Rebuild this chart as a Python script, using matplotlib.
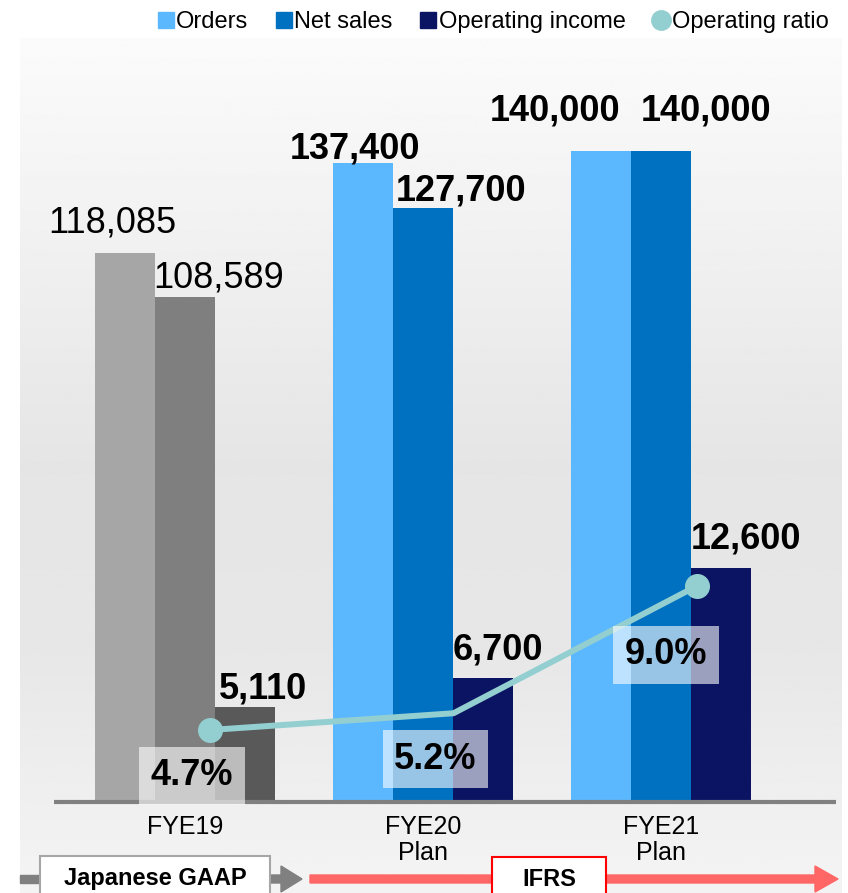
import numpy as np
import matplotlib.pyplot as plt
from matplotlib.lines import Line2D
from matplotlib.patches import Rectangle, Polygon

plt.rcParams['font.family'] = ['Liberation Sans', 'DejaVu Sans']

# data
years = ['FYE19', 'FYE20\nPlan', 'FYE21\nPlan']
orders = [118085, 137400, 140000]
net_sales = [108589, 127700, 140000]
op_income = [5110, 6700, 12600]
op_ratio = [4.7, 5.2, 9.0]

# colours: first year (Japanese GAAP) in greys, plans in blues
orders_col = ['#a6a6a6', '#5bb8ff', '#5bb8ff']
sales_col = ['#7f7f7f', '#0070c0', '#0070c0']
income_col = ['#595959', '#0a1462', '#0a1462']
ratio_col = '#93cfd0'

W, H = 848, 893
fig = plt.figure(figsize=(W / 100, H / 100), dpi=100)


def frect(x0, y0, x1, y1):
    # pixel box (top-left origin) -> figure fraction rect
    return [x0 / W, 1 - y1 / H, (x1 - x0) / W, (y1 - y0) / H]


# soft grey backdrop
bg = fig.add_axes(frect(20, 38, 841, H), zorder=0)
rows = np.linspace(0, 1, 300)
shade = np.interp(rows, [0, 0.5, 0.72, 1.0], [251, 229, 231, 244]) / 255
bg.imshow(np.repeat(shade[:, None], 2, axis=1), cmap='gray', vmin=0, vmax=1,
          aspect='auto', extent=[0, 1, 0, 1])
bg.axis('off')

rect = frect(54, 80, 836, 802)
ax = fig.add_axes(rect, zorder=1)
ax2 = ax.twinx()
ax3 = fig.add_axes(rect, zorder=3)
for a in (ax, ax2, ax3):
    a.patch.set_visible(False)
    for s in a.spines.values():
        s.set_visible(False)

x = np.arange(len(years))
w = 0.252
b1 = ax.bar(x - w, orders, w, color=orders_col)
b2 = ax.bar(x, net_sales, w, color=sales_col)
b3 = ax2.bar(x + w, op_income, w, color=income_col)

ax.set_xlim(-0.55, 2.735)
ax.set_ylim(0, 155300)
ax2.set_ylim(0, 38880)
ax2.axhline(0, color='#808080', lw=3, zorder=5, clip_on=False,
            solid_capstyle='butt')
ax.set_yticks([])
ax2.set_yticks([])
ax.set_xticks(x)
ax.set_xticklabels(years, fontsize=18, linespacing=1.15)
ax.tick_params(axis='x', length=0, pad=9)

# value labels: (dx, dy) pixel offsets from the bar top centre
fmt = lambda v: f'{v:,}'
orders_off = [(-13, 21), (-8, 5), (-46, 31)]
sales_off = [(34, 10), (38, 8), (45, 31)]
income_off = [(18, 9), (15, 18), (25, 20)]
for bars, vals, offs, a in ((b1, orders, orders_off, ax),
                            (b2, net_sales, sales_off, ax),
                            (b3, op_income, income_off, ax2)):
    for i, (bar, v, (dx, dy)) in enumerate(zip(bars, vals, offs)):
        bold = i > 0 or a is ax2
        a.annotate(fmt(v), (bar.get_x() + bar.get_width() / 2, v),
                   xytext=(dx, dy), textcoords='offset pixels',
                   ha='center', va='baseline', fontsize=26,
                   fontweight='bold' if bold else 'normal', zorder=6)

# operating ratio line on its own scale
ax3.set_xlim(-0.641, 2.571)
ax3.set_ylim(2.551, 24.10)
ax3.set_xticks([])
ax3.set_yticks([])
ax3.plot(x, op_ratio, color=ratio_col, lw=4.3, marker='o', ms=17,
         markevery=[0, 2], solid_capstyle='round')
ratio_off = [(-18, -46), (-18, -46), (-31, -69)]
for xi, r, (dx, dy) in zip(x, op_ratio, ratio_off):
    ax3.annotate(f'{r:.1f}%', (xi, r), xytext=(dx, dy),
                 textcoords='offset pixels', ha='center', va='center',
                 fontsize=26, fontweight='bold',
                 bbox=dict(boxstyle='square,pad=0.32', fc='white',
                           ec='none', alpha=0.6))

# legend along the top
handles = [
    Line2D([], [], ls='none', marker='s', ms=11.5, color=orders_col[1]),
    Line2D([], [], ls='none', marker='s', ms=11.5, color=sales_col[1]),
    Line2D([], [], ls='none', marker='s', ms=11.5, color=income_col[1]),
    Line2D([], [], ls='none', marker='o', ms=14, color=ratio_col),
]
fig.legend(handles, ['Orders', 'Net sales', 'Operating income', 'Operating ratio'],
           loc='upper right', bbox_to_anchor=(838 / W, 1 - 2 / H), ncol=4,
           frameon=False, fontsize=17, handlelength=0.6, handletextpad=0.15,
           columnspacing=1.2, borderaxespad=0)

# accounting standard arrows at the bottom
ov = fig.add_axes([0, 0, 1, 1], zorder=10)
ov.set_xlim(0, W)
ov.set_ylim(H, 0)
ov.axis('off')
ov.add_patch(Rectangle((20, 875), 22, 8, color='#808080'))
ov.add_patch(Polygon([(268, 875), (281, 875), (281, 866), (302, 879),
                      (281, 892), (281, 883), (268, 883)], color='#808080'))
ov.add_patch(Polygon([(310, 875), (815, 875), (815, 866), (838, 879),
                      (815, 892), (815, 883), (310, 883)], color='#ff6666'))
ov.add_patch(Rectangle((40, 856), 230, 45, fc='white', ec='#a6a6a6', lw=1.5))
ov.add_patch(Rectangle((492, 857), 114, 45, fc='white', ec='#ff0000', lw=1.5))
ov.text(155, 879, 'Japanese GAAP', ha='center', va='center', fontsize=17,
        fontweight='bold')
ov.text(549, 879, 'IFRS', ha='center', va='center', fontsize=17,
        fontweight='bold')

fig.savefig('out.png', dpi=100)
